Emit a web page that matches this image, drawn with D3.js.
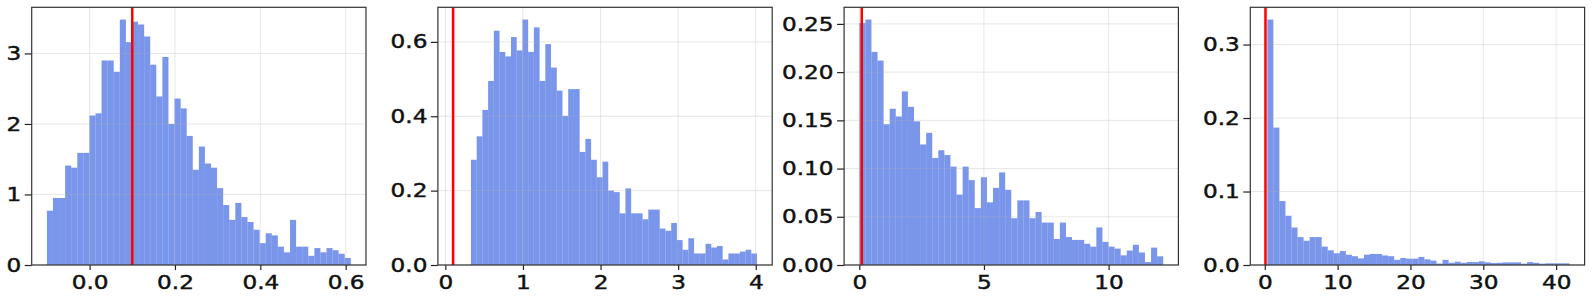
<!DOCTYPE html>
<html lang="en">
<head>
    <meta charset="UTF-8">
    <title>Histograms</title>
    <style>
        body,
        html {
            margin: 0;
            padding: 0;
            background: #fff;
        }
        svg text {
            font-family: "DejaVu Sans", sans-serif;
        }
    </style>
    <script src="https://d3js.org/d3.v7.min.js"></script>
</head>
<body>
<div id="chart"></div>
<script>
    // bin extents (first edge, last edge) of every histogram, 50 bins each
    const binRange1 = [-0.1, 0.612];
    const binRange2 = [0.33, 4.016];
    const binRange3 = [0.0, 12.19];
    const binRange4 = [0.35, 41.82];

    // density of each bin
    const dens1 = [0.77, 0.95, 0.95, 1.41, 1.38, 1.59, 1.59, 2.12, 2.15, 2.90,
        2.90, 2.74, 3.48, 3.16, 3.45, 3.41, 3.24, 2.84, 2.39, 2.95,
        2.00, 2.36, 2.22, 1.83, 1.35, 1.68, 1.44, 1.38, 1.09, 0.85,
        0.64, 0.88, 0.68, 0.61, 0.50, 0.31, 0.45, 0.42, 0.26, 0.18,
        0.64, 0.26, 0.26, 0.13, 0.24, 0.18, 0.24, 0.21, 0.16, 0.10];
    const dens2 = [0.283, 0.346, 0.417, 0.495, 0.630, 0.573, 0.561, 0.613, 0.577, 0.660,
        0.573, 0.639, 0.495, 0.594, 0.531, 0.469, 0.401, 0.473, 0.473, 0.304,
        0.339, 0.283, 0.236, 0.278, 0.200, 0.196, 0.139, 0.206, 0.139, 0.139,
        0.123, 0.149, 0.149, 0.098, 0.092, 0.113, 0.067, 0.041, 0.072, 0.031,
        0.031, 0.057, 0.047, 0.051, 0.015, 0.031, 0.031, 0.036, 0.041, 0.031];
    const dens3 = [0.251, 0.2545, 0.221, 0.212, 0.146, 0.162, 0.154, 0.180, 0.164, 0.149,
        0.125, 0.137, 0.111, 0.119, 0.114, 0.102, 0.073, 0.102, 0.088, 0.059,
        0.091, 0.065, 0.080, 0.096, 0.078, 0.0485, 0.067, 0.067, 0.0485, 0.055,
        0.044, 0.044, 0.027, 0.044, 0.029, 0.026, 0.026, 0.022, 0.019, 0.039,
        0.024, 0.019, 0.017, 0.010, 0.015, 0.021, 0.013, 0.003, 0.018, 0.009];
    const dens4 = [0.334, 0.187, 0.087, 0.067, 0.051, 0.038, 0.033, 0.038, 0.038, 0.025,
        0.020, 0.016, 0.019, 0.014, 0.012, 0.009, 0.014, 0.015, 0.015, 0.013,
        0.012, 0.007, 0.0095, 0.0086, 0.0086, 0.011, 0.0077, 0.006, 0.002, 0.007,
        0.003, 0.0045, 0.003, 0.004, 0.004, 0.005, 0.0036, 0.0027, 0.003, 0.0036,
        0.0036, 0.0036, 0.0018, 0.004, 0.003, 0.0018, 0.0023, 0.0023, 0.0023, 0.0023];

    // tick values and their label formats
    const xTicks1 = [0.0, 0.2, 0.4, 0.6], yTicks1 = [0, 1, 2, 3];
    const xTicks2 = [0, 1, 2, 3, 4], yTicks2 = [0.0, 0.2, 0.4, 0.6];
    const xTicks3 = [0, 5, 10], yTicks3 = [0.00, 0.05, 0.10, 0.15, 0.20, 0.25];
    const xTicks4 = [0, 10, 20, 30, 40], yTicks4 = [0.0, 0.1, 0.2, 0.3];
    const xFormats = [".1f", "d", "d", "d"];
    const yFormats = ["d", ".1f", ".2f", ".1f"];

    // red reference line
    const threshold = 0.1;

    const panels = [
        {range: binRange1, dens: dens1, xt: xTicks1, yt: yTicks1},
        {range: binRange2, dens: dens2, xt: xTicks2, yt: yTicks2},
        {range: binRange3, dens: dens3, xt: xTicks3, yt: yTicks3},
        {range: binRange4, dens: dens4, xt: xTicks4, yt: yTicks4}
    ];

    (function () {
        let width = 1594, height = 299,
            left0 = 31.7, step = 406.2, pw = 334.3,
            plotTop = 7.3, plotBottom = 265,
            stretch = 1.22;

        let svg = d3.select('#chart').append('svg')
            .attr('width', width).attr('height', height);

        panels.forEach((p, k) => {
            let g = svg.append('g').attr('transform', `translate(${left0 + k * step},0)`);
            let n = p.dens.length,
                bw = (p.range[1] - p.range[0]) / n,
                bins = p.dens.map((d, i) => ({x0: p.range[0] + i * bw, x1: p.range[0] + (i + 1) * bw, v: d}));

            let lo = Math.min(p.range[0], threshold), hi = Math.max(p.range[1], threshold),
                pad = (hi - lo) * 0.05;
            let x = d3.scaleLinear().domain([lo - pad, hi + pad]).range([0, pw]);
            let y = d3.scaleLinear().domain([0, d3.max(p.dens) * 1.05]).range([plotBottom, plotTop]);

            // bars
            g.selectAll('.bar').data(bins).enter().append('rect')
                .attr('class', 'bar')
                .attr('x', d => x(d.x0))
                .attr('width', d => x(d.x1) - x(d.x0))
                .attr('y', d => y(d.v))
                .attr('height', d => plotBottom - y(d.v))
                .attr('fill', '#4169E1')
                .attr('fill-opacity', 0.7);

            // grid
            g.selectAll('.gx').data(p.xt).enter().append('line')
                .attr('x1', d => x(d)).attr('x2', d => x(d))
                .attr('y1', plotTop).attr('y2', plotBottom)
                .attr('stroke', '#b0b0b0').attr('stroke-opacity', 0.3).attr('stroke-width', 1);
            g.selectAll('.gy').data(p.yt).enter().append('line')
                .attr('x1', 0).attr('x2', pw)
                .attr('y1', d => y(d)).attr('y2', d => y(d))
                .attr('stroke', '#b0b0b0').attr('stroke-opacity', 0.3).attr('stroke-width', 1);

            // threshold line
            g.append('line')
                .attr('x1', x(threshold)).attr('x2', x(threshold))
                .attr('y1', plotTop).attr('y2', plotBottom)
                .attr('stroke', 'red').attr('stroke-width', 2.5);

            // axes
            let ax = g.append('g').attr('transform', `translate(0,${plotBottom})`)
                .call(d3.axisBottom(x).tickValues(p.xt).tickFormat(d3.format(xFormats[k]))
                    .tickSizeInner(5).tickSizeOuter(0).tickPadding(6));
            let ay = g.append('g')
                .call(d3.axisLeft(y).tickValues(p.yt).tickFormat(d3.format(yFormats[k]))
                    .tickSizeInner(7).tickSizeOuter(0).tickPadding(4));

            [ax, ay].forEach(a => {
                a.select('.domain').remove();
                a.selectAll('line').attr('stroke', '#222').attr('stroke-width', 1.2);
                a.selectAll('text').attr('font-size', 19).attr('fill', '#111')
                    .attr('stroke', '#111').attr('stroke-width', 0.45);
            });
            ax.selectAll('text').attr('transform', `scale(${stretch},1)`);
            ay.selectAll('text').attr('x', -10.5 / stretch).attr('transform', `scale(${stretch},1)`);

            // frame
            g.append('rect')
                .attr('x', 0).attr('y', plotTop).attr('width', pw).attr('height', plotBottom - plotTop)
                .attr('fill', 'none').attr('stroke', '#333').attr('stroke-width', 1.2);
        });
    }());
</script>
</body>
</html>
